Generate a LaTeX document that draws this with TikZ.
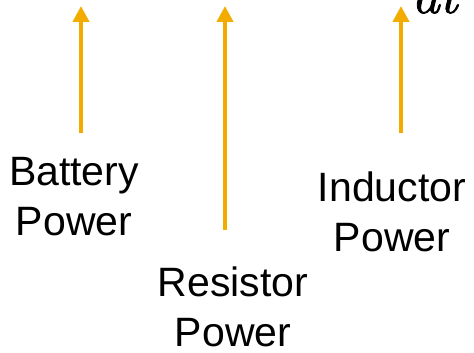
\documentclass[tikz,border=0pt]{standalone}
\usepackage{fontspec}
\setmainfont{Liberation Sans}
\newfontfamily\formfont[FakeBold=1.5]{Latin Modern Roman}
\usetikzlibrary{arrows.meta}
\definecolor{powgold}{RGB}{242,172,0}
\tikzset{
  powarrow/.style={draw=powgold, line width=4pt, -{Triangle[length=16pt,width=16pt]}},
  powlabel/.style={align=center, inner sep=0pt, anchor=base, font=\fontsize{41}{50}\selectfont}
}
\begin{document}
\begin{tikzpicture}[x=1pt,y=1pt]
\useasboundingbox (0,0) rectangle (474,353);
\clip (0,0) rectangle (474,353);
% partial formula at top right
\node[inner sep=0pt, anchor=base west, font=\formfont\itshape\fontsize{56}{60}\selectfont] (dt) at (411,340) {dt};
% arrows
\coordinate (a1s) at (81,220);
\coordinate (a1e) at (81,347);
\coordinate (a2s) at (225,123);
\coordinate (a2e) at (225,347);
\coordinate (a3s) at (401,220);
\coordinate (a3e) at (401,347);
\draw[powarrow] (a1s) -- (a1e);
\draw[powarrow] (a2s) -- (a2e);
\draw[powarrow] (a3s) -- (a3e);
% labels
\node[powlabel] (battery) at (74,117) {Battery\\Power};
\node[powlabel] (inductor) at (392,101) {Inductor\\Power};
\node[powlabel] (resistor) at (233,6) {Resistor\\Power};
\end{tikzpicture}
\end{document}
